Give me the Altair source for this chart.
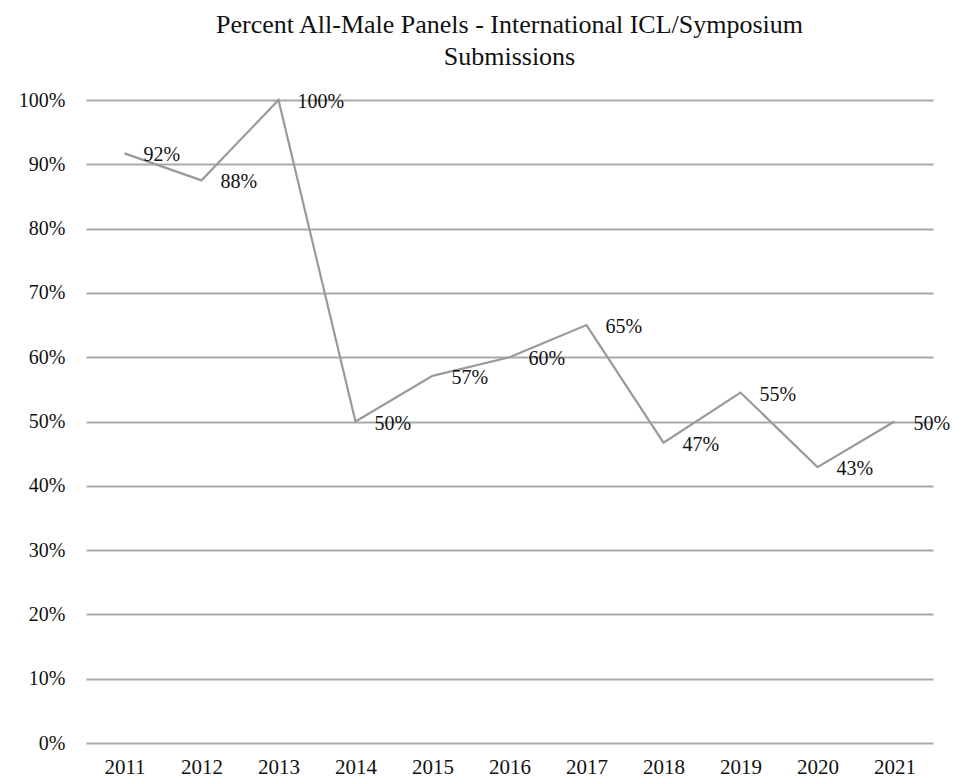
import altair as alt
import pandas as pd

years = ["2011", "2012", "2013", "2014", "2015", "2016", "2017", "2018", "2019", "2020", "2021"]
values = [0.917, 0.875, 1.0, 0.50, 0.571, 0.60, 0.65, 0.467, 0.545, 0.429, 0.50]
labels = ["92%", "88%", "100%", "50%", "57%", "60%", "65%", "47%", "55%", "43%", "50%"]
y_ticks = [0.0, 0.1, 0.2, 0.3, 0.4, 0.5, 0.6, 0.7, 0.8, 0.9, 1.0]

df = pd.DataFrame({"year": years, "value": values, "label": labels})

FONT = "Liberation Serif"

x = alt.X("year:O", scale=alt.Scale(type="point", padding=0.5),
          axis=alt.Axis(title=None, labelAngle=0, domain=False, ticks=False,
                        labelPadding=13, labelFontSize=21, labelFont=FONT,
                        labelColor="#111111"))
y = alt.Y("value:Q", scale=alt.Scale(domain=[0, 1], nice=False),
          axis=alt.Axis(title=None, format="%", values=y_ticks, labelOverlap=False,
                        domain=False, ticks=False, grid=True, gridColor="#a9a9a9",
                        gridWidth=2, labelPadding=21, labelFontSize=20, labelFont=FONT,
                        labelColor="#111111"))

line = alt.Chart(df).mark_line(color="#9a9a9a", strokeWidth=2.2).encode(x=x, y=y)
text = alt.Chart(df).mark_text(align="left", baseline="middle", dx=19, dy=2,
                               fontSize=20, font=FONT, color="#111111").encode(
    x=x, y=y, text="label:N")

chart = (line + text).properties(
    width=847, height=643,
    background="white",
    title=alt.TitleParams(
        text=["Percent All-Male Panels - International ICL/Symposium", "Submissions"],
        font=FONT, fontSize=26, fontWeight="normal", color="#111111",
        lineHeight=32, anchor="middle", offset=20),
    autosize=alt.AutoSizeParams(type="none"),
    padding={"left": 86, "top": 100, "right": 22, "bottom": 38},
).configure_view(stroke=None)

chart.save("out.html", embed_options={"renderer": "svg", "actions": False})
